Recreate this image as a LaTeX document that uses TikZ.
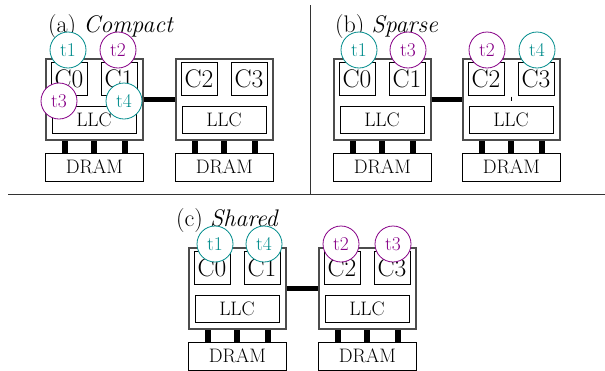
\documentclass[tikz,border=0pt]{standalone}
\usepackage{tikz}
\definecolor{tteal}{RGB}{0,140,140}
\definecolor{tpurp}{RGB}{135,0,135}
\tikzset{
  sock/.style={draw=black!70, line width=1.6pt, minimum width=97pt, minimum height=81pt, inner sep=0pt, anchor=north west},
  corebox/.style={draw, line width=0.8pt, minimum width=36pt, minimum height=33pt, inner sep=0pt, font=\fontsize{25.5}{28}\selectfont},
  llcbox/.style={draw, line width=0.8pt, minimum width=84pt, minimum height=27pt, inner sep=0pt, font=\fontsize{19.5}{21}\selectfont},
  drambox/.style={draw, line width=0.8pt, minimum width=98pt, minimum height=27.5pt, inner sep=0pt, anchor=north west, font=\fontsize{19.5}{21}\selectfont},
  chan/.style={fill=black},
  link/.style={line width=5.5pt},
  thr/.style={circle, draw=#1, text=#1, fill=white, line width=0.8pt, minimum size=36pt, inner sep=0pt, font=\fontsize{19.5}{21}\selectfont},
  ptitle/.style={anchor=base west, inner sep=0pt, font=\fontsize{24}{26}\selectfont},
  sep/.style={line width=0.8pt, black!80}
}
% #1 prefix, #2 x, #3 y, #4 core A label, #5 core B label
\newcommand\mysocket[5]{%
  \node[sock] (#1s) at (#2,#3) {};
  \node[corebox] (#1ca) at (#2+24,#3+20.5) {#4};
  \node[corebox] (#1cb) at (#2+74,#3+20.5) {#5};
  \node[llcbox] (#1l) at (#2+49,#3+61.5) {LLC};
  \node[drambox] (#1d) at (#2,#3+95) {DRAM};
  \fill[chan] ([xshift=-32pt]#1s.south) rectangle ([xshift=-26pt]#1d.north);
  \fill[chan] ([xshift=-3pt]#1s.south) rectangle ([xshift=3pt]#1d.north);
  \fill[chan] ([xshift=28pt]#1s.south) rectangle ([xshift=34pt]#1d.north);
}
\begin{document}
\begin{tikzpicture}[x=1pt,y=-1pt]
\useasboundingbox (0,0) rectangle (605,370);
\clip (0,0) rectangle (605,370);
% separators
\coordinate (vtop) at (310,5);
\coordinate (vbot) at (310,194);
\coordinate (hl) at (8,194);
\coordinate (hr) at (605,194);
\draw[sep] (vtop) -- (vbot);
\draw[sep] (hl) -- (hr);

% (a) Compact
\node[ptitle] (ta) at (48,32) {(a) \textit{Compact}};
\mysocket{aA}{45}{58}{C0}{C1}
\mysocket{aB}{175}{58}{C2}{C3}
\draw[link] (aAs.east) -- (aBs.west);
\node[thr=tteal] (at1) at (68,50) {t1};
\node[thr=tpurp] (at2) at (118,50) {t2};
\node[thr=tpurp] (at3) at (59,101) {t3};
\node[thr=tteal] (at4) at (124,101) {t4};

% (b) Sparse
\node[ptitle] (tb) at (335,32) {(b) \textit{Sparse}};
\mysocket{bA}{333}{58}{C0}{C1}
\mysocket{bB}{462}{58}{C2}{C3}
\draw[link] (bAs.east) -- (bBs.west);
\coordinate (tickt) at (511,96.5);
\coordinate (tickb) at (511,101);
\draw[line width=0.6pt] (tickt) -- (tickb);
\node[thr=tteal] (bt1) at (359,50) {t1};
\node[thr=tpurp] (bt3) at (408,50) {t3};
\node[thr=tpurp] (bt2) at (487,50) {t2};
\node[thr=tteal] (bt4) at (537,50) {t4};

% (c) Shared
\node[ptitle] (tc) at (176,226) {(c) \textit{Shared}};
\mysocket{cA}{188}{247}{C0}{C1}
\mysocket{cB}{318}{247}{C2}{C3}
\draw[link] (cAs.east) -- (cBs.west);
\node[thr=tteal] (ct1) at (215,244) {t1};
\node[thr=tteal] (ct4) at (264,244) {t4};
\node[thr=tpurp] (ct2) at (341,244) {t2};
\node[thr=tpurp] (ct3) at (393,244) {t3};
\end{tikzpicture}
\end{document}
